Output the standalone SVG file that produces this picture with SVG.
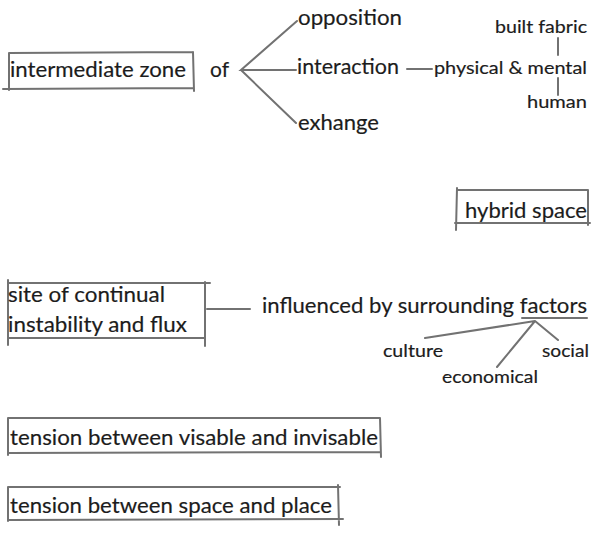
<svg xmlns="http://www.w3.org/2000/svg" width="597" height="534" viewBox="0 0 597 534">
<style>
text{font-family:Lato,"Open Sans","Liberation Sans",sans-serif;fill:#1c1c1c;stroke:#1c1c1c;stroke-width:0.18;}
.l{font-size:22px;}
.s{font-size:17.5px;}
.ln{stroke:#727272;stroke-width:2;fill:none;stroke-linecap:round;}
</style>
<rect width="597" height="534" fill="#fff"/>
<g id="connectors">
<path class="ln" d="M297,21 L241,70 L296,70 M241,70 L296,123"/>
<path class="ln" d="M407,69 L432,69"/>
<path class="ln" d="M558,38 L558,55 M558,78 L558,95"/>
<path class="ln" d="M207,309 L250,309"/>
<path class="ln" d="M522,318 L587,318"/>
<path class="ln" d="M535,321 L425,338 M535,321 L558,340 M535,321 L497,367"/>
</g>
<g id="intermediate-zone">
<path class="ln" d="M9,53 L193,52 M3,89 L193,88 M9,53 L9,90 M193,52 L194,91"/>
<text class="l" x="10" y="77" textLength="176" lengthAdjust="spacingAndGlyphs">intermediate zone</text>
</g>
<g id="of"><text class="l" x="210" y="77" textLength="19" lengthAdjust="spacingAndGlyphs">of</text></g>
<g id="opposition"><text class="l" x="298" y="25" textLength="104" lengthAdjust="spacingAndGlyphs">opposition</text></g>
<g id="interaction"><text class="l" x="297" y="74" textLength="102" lengthAdjust="spacingAndGlyphs">interaction</text></g>
<g id="exhange"><text class="l" x="298" y="130" textLength="81" lengthAdjust="spacingAndGlyphs">exhange</text></g>
<g id="physical-mental"><text class="s" x="434" y="74" textLength="153" lengthAdjust="spacingAndGlyphs">physical &amp; mental</text></g>
<g id="built-fabric"><text class="s" x="495" y="33" textLength="92" lengthAdjust="spacingAndGlyphs">built fabric</text></g>
<g id="human"><text class="s" x="527" y="108" textLength="60" lengthAdjust="spacingAndGlyphs">human</text></g>
<g id="hybrid-space">
<path class="ln" d="M457,190 L588,190 M455,223 L590,223 M457,188 L456,230 M588,190 L588,225"/>
<text class="l" x="465" y="218" textLength="122" lengthAdjust="spacingAndGlyphs">hybrid space</text>
</g>
<g id="site">
<path class="ln" d="M8,283 L210,283 M8,338 L205,338 M8,280 L8,345 M205,282 L205,346"/>
<text class="l" x="8" y="302" textLength="157" lengthAdjust="spacingAndGlyphs">site of continual</text>
<text class="l" x="8" y="332" textLength="179" lengthAdjust="spacingAndGlyphs">instability and flux</text>
</g>
<g id="influenced"><text class="l" x="262" y="313" textLength="325" lengthAdjust="spacingAndGlyphs">influenced by surrounding factors</text></g>
<g id="culture"><text class="s" x="383" y="357" textLength="60" lengthAdjust="spacingAndGlyphs">culture</text></g>
<g id="social"><text class="s" x="542" y="357" textLength="47" lengthAdjust="spacingAndGlyphs">social</text></g>
<g id="economical"><text class="s" x="442" y="383" textLength="96" lengthAdjust="spacingAndGlyphs">economical</text></g>
<g id="visable">
<path class="ln" d="M8,418 L380,418 M8,453 L380,452 M8,418 L8,455 M380,418 L381,457"/>
<text class="l" x="10" y="445" textLength="368" lengthAdjust="spacingAndGlyphs">tension between visable and invisable</text>
</g>
<g id="space-place">
<path class="ln" d="M8,487 L340,487 M8,520 L343,519 M8,487 L8,521 M338,485 L339,525"/>
<text class="l" x="10" y="513" textLength="322" lengthAdjust="spacingAndGlyphs">tension between space and place</text>
</g>
</svg>
